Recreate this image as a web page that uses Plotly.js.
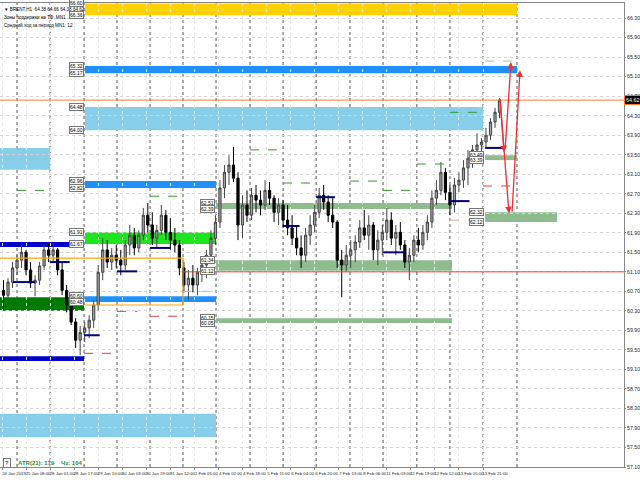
<!DOCTYPE html>
<html><head><meta charset="utf-8">
<script src="https://cdn.plot.ly/plotly-3.0.1.min.js"></script>
<style>html,body{margin:0;padding:0;background:#fff}#chart{width:640px;height:480px}</style>
</head><body><div id="chart"></div>
<script>
// ---- price data (3-hour aggregated H1 bars) ----
const candleOpen = [60.72,60.62,60.89,61.18,61.34,61.50,61.14,60.87,60.93,61.22,
61.55,61.44,61.55,61.14,60.72,60.42,60.07,59.70,59.86,59.95,
60.11,60.42,61.09,61.55,61.30,61.44,61.34,61.24,61.65,61.85,
61.59,61.85,62.26,62.06,61.79,61.95,62.26,61.91,61.75,61.65,
61.18,60.83,60.97,60.83,61.09,61.24,61.44,61.79,62.12,62.82,
63.14,63.29,63.02,62.06,62.47,62.26,62.67,62.57,62.47,62.77,
62.61,62.32,62.47,62.16,62.00,61.79,61.59,61.44,61.85,62.06,
62.32,62.67,62.53,62.26,62.12,61.34,61.24,61.44,61.55,61.71,
62.00,61.85,62.06,61.55,61.75,61.91,62.16,61.79,61.91,61.65,
61.30,61.44,61.75,61.65,61.91,62.12,62.61,62.77,63.14,62.73,
62.47,62.88,62.98,63.23,63.43,63.60,63.70,63.76,63.90,64.17,64.37];
const candleHigh = [60.93,60.97,61.30,61.44,61.65,61.55,61.30,61.03,61.30,61.67,
61.69,61.67,61.59,61.30,60.83,60.52,60.15,59.99,60.07,60.21,
60.52,61.24,61.79,61.75,61.59,61.65,61.55,61.75,62.06,62.00,
61.95,62.41,62.51,62.32,62.06,62.47,62.37,62.20,62.00,61.75,
61.30,61.14,61.24,61.18,61.38,61.55,61.95,62.26,62.98,63.29,
63.49,63.66,63.14,62.67,62.77,62.82,62.88,62.77,62.98,62.94,
62.67,62.61,62.57,62.47,62.26,62.06,61.85,62.00,62.26,62.47,
62.82,62.88,62.67,62.61,62.16,61.55,61.65,61.75,61.85,62.16,
62.37,62.26,62.12,61.95,62.06,62.41,62.32,62.06,62.12,61.75,
61.59,61.85,62.00,62.06,62.26,62.77,62.98,63.35,63.23,62.88,
63.02,63.14,63.39,63.60,63.70,63.94,63.84,64.05,64.25,64.46,64.66];
const candleLow = [60.31,60.56,60.77,61.03,61.18,61.03,60.77,60.60,60.83,61.14,
61.30,61.30,61.03,60.62,60.27,60.01,59.54,59.39,59.66,59.74,
59.95,60.31,60.93,61.18,61.14,61.18,61.03,61.14,61.44,61.44,
61.50,61.75,61.91,61.65,61.59,61.85,61.75,61.55,61.50,61.03,
60.68,60.52,60.68,60.62,60.89,60.97,61.30,61.65,62.00,62.61,
62.88,62.94,61.75,61.79,62.12,62.16,62.32,62.26,62.37,62.47,
62.12,62.06,62.00,61.85,61.65,61.44,61.18,61.30,61.65,61.91,
62.20,62.37,62.12,62.00,61.18,60.58,61.09,61.18,61.30,61.59,
61.75,61.55,61.34,61.24,61.44,61.75,61.65,61.44,61.55,61.18,
60.93,61.30,61.50,61.55,61.75,62.00,62.47,62.67,62.57,62.26,
62.32,62.73,62.82,62.88,63.23,63.49,63.55,63.64,63.80,64.05,64.25];
const candleClose = [60.62,60.89,61.18,61.34,61.50,61.14,60.87,60.93,61.22,61.55,
61.44,61.55,61.14,60.72,60.42,60.07,59.70,59.86,59.95,60.11,
60.42,61.09,61.55,61.30,61.44,61.34,61.24,61.65,61.85,61.59,
61.85,62.26,62.06,61.79,61.95,62.26,61.91,61.75,61.65,61.18,
60.83,60.97,60.83,61.09,61.24,61.44,61.79,62.12,62.82,63.14,
63.29,63.02,62.06,62.47,62.26,62.67,62.57,62.47,62.77,62.61,
62.32,62.47,62.16,62.00,61.79,61.59,61.44,61.85,62.06,62.32,
62.67,62.53,62.26,62.12,61.34,61.24,61.44,61.55,61.71,62.00,
61.85,62.06,61.55,61.75,61.91,62.16,61.79,61.91,61.65,61.30,
61.44,61.75,61.65,61.91,62.12,62.61,62.77,63.14,62.73,62.47,
62.88,62.98,63.23,63.43,63.60,63.70,63.76,63.90,64.17,64.37,64.62];
const candleBar = candleOpen.map((_, i) => 1 + 3 * i); // bar index (H1) of each group

const lastPrice = 64.62;
const redLevel = 61.10;
const redLevelFromBar = 120.4;

// ---- axis ticks ----
const timeTickBars = [0,16,32,48,64,80,96,112,128,144,160,176,192,208,224,240,256,272,288,304,320];
const timeTickLabels = ["24 Jan 2019","25 Jan 08:00","28 Jan 01:00","28 Jan 17:00","29 Jan 10:00","30 Jan 03:00",
"30 Jan 19:00","31 Jan 12:00","1 Feb 05:00","4 Feb 02:00","4 Feb 18:00","5 Feb 11:00","6 Feb 04:00",
"6 Feb 20:00","7 Feb 13:00","8 Feb 06:00","11 Feb 03:00","11 Feb 19:00","12 Feb 12:00","13 Feb 05:00","13 Feb 21:00"];
const priceTicks = [57.10,57.50,57.90,58.30,58.70,59.10,59.50,59.90,60.30,60.70,61.10,61.50,
61.90,62.30,62.70,63.10,63.50,63.90,64.30,64.70,65.10,65.50,65.90,66.30];
const daySepBars = [10,32,54.6,76.5,98.5,120.4,142.4,165,187,209,231.5,253.5,276,298,320,342.6];

// ---- support / resistance zones ----
const zoneStart = [55.2,55.2,55.2,-1.4,55.2,55.2,-1.4,-1.4,55.2,-1.4,-1.4,142.4,142.4,142.4,321.4,321.4];
const zoneEnd   = [342.6,342.6,320,32,142.4,142.4,54.6,54.6,142.4,54.6,142.4,299.4,299.4,299.4,342.6,369.3];
const zoneLow   = [66.36,65.17,64.00,63.19,62.82,61.67,61.61,60.30,60.48,59.27,57.71,62.39,61.12,60.05,63.39,62.12];
const zoneHigh  = [66.60,65.32,64.48,63.64,62.96,61.91,61.71,60.58,60.60,59.37,58.19,62.51,61.34,60.15,63.49,62.32];
const zoneKind  = ["gold","dodger","sky","sky","dodger","lime","navy","dkgreen","dodger","navy","sky","sea","sea","sea","sea","sea"];
const zoneLabeled = [1,1,1,0,1,1,0,0,1,0,0,1,1,1,1,1];

// ---- short level lines ----
const lvlStart = [10,98.5,165,187,231.5,253.5,276,298,321.4, 54.6,76.5,98.5,120.4,298,320, 7.3,32,54.6,76.5,98.5,187,209,253.5,298,321.4];
const lvlEnd   = [32,120.4,187,209,253.5,276,298,320,342.6, 76.5,90,120.4,142.4,320,342.6, 22,45,65,90,112,198,221.5,268,311,333];
const lvlPrice = [62.77,62.65,63.60,62.92,62.96,62.77,63.31,64.37,65.42, 59.43,60.29,60.19,60.70,62.16,62.86, 60.89,61.30,59.80,61.11,61.59,62.04,62.63,61.50,62.55,63.64];
const lvlKind  = ["up","up","up","up","up","up","up","up","up2", "dn","dn","dn","dn2","dn2","dn", "mid","mid","mid","mid","mid","mid","mid","mid","mid","mid"];

// ---- forecast zigzag ----
const fcTailBar = [331.3,334.7,331.3,339.3];
const fcTailPrice = [64.66,63.60,64.66,62.30];
const fcHeadBar = [334,338.6,337.3,344.6];
const fcHeadPrice = [63.55,65.40,62.30,65.23];

// ---- styles ----
const zoneColor = {gold:"#FFD200", dodger:"#1E90FF", sky:"#87CEEB", lime:"#1EE61E", navy:"#0000CD", dkgreen:"#007A00", sea:"#8FBC8F"};
const lvlStyle = {up:{color:"#2E9B2E",dash:"dash",width:1}, up2:{color:"#8FCF8F",dash:"dash",width:1},
  dn:{color:"#E23A3A",dash:"dash",width:1}, dn2:{color:"#F4A0A0",dash:"dash",width:1}, mid:{color:"#000080",dash:"solid",width:2}};
const FONT = "Liberation Sans, Arial, sans-serif";
const X_RANGE = [-1.33, 413.8];

const shapes = [];
const annotations = [];
zoneStart.forEach((s, i) => {
  shapes.push({type:"rect", xref:"x", yref:"y", x0:s, x1:zoneEnd[i], y0:zoneLow[i], y1:zoneHigh[i],
    fillcolor:zoneColor[zoneKind[i]], line:{width:0}, layer:"below"});
  if (zoneLabeled[i]) {
    [zoneHigh[i], zoneLow[i]].forEach(p => annotations.push({xref:"x", yref:"y", x:s - 0.8, y:p, xanchor:"right", yanchor:"middle",
      text:p.toFixed(2), showarrow:false, font:{family:FONT,size:5,color:"#000"}, bgcolor:"#fff", bordercolor:"#777", borderwidth:1, borderpad:0}));
  }
});
daySepBars.forEach(b => shapes.push({type:"line", xref:"x", yref:"paper", x0:b, x1:b, y0:0, y1:1,
  line:{color:"#555", width:1, dash:"dot"}, layer:"below"}));
lvlStart.forEach((s, i) => shapes.push({type:"line", xref:"x", yref:"y", x0:s, x1:lvlEnd[i], y0:lvlPrice[i], y1:lvlPrice[i],
  line:lvlStyle[lvlKind[i]], layer:"above"}));
// orange box lines
shapes.push({type:"path", xref:"x", yref:"y", path:`M -1.4 61.38 L 120.4 61.38 L 120.4 60.42 L 55.2 60.42`, line:{color:"#FFA500", width:1.2}, layer:"above"});
// red level
shapes.push({type:"line", xref:"x", yref:"y", x0:redLevelFromBar, x1:X_RANGE[1], y0:redLevel, y1:redLevel, line:{color:"#F03C3C", width:1}, layer:"above"});
// current price line
shapes.push({type:"line", xref:"paper", yref:"y", x0:0, x1:1, y0:lastPrice, y1:lastPrice, line:{color:"#FF7A30", width:1}, layer:"above"});

fcTailBar.forEach((b, i) => annotations.push({xref:"x", yref:"y", axref:"x", ayref:"y", x:fcHeadBar[i], y:fcHeadPrice[i], ax:b, ay:fcTailPrice[i],
  showarrow:true, arrowhead:2, arrowsize:1, arrowwidth:1.3, arrowcolor:"#F03030", text:""}));

// price label box
annotations.push({xref:"paper", yref:"y", x:1, y:lastPrice, xanchor:"left", yanchor:"middle", xshift:0, text:lastPrice.toFixed(2),
  showarrow:false, font:{family:FONT,size:5.4,color:"#fff"}, bgcolor:"#000", bordercolor:"#FF7A30", borderwidth:1, borderpad:1});
// header texts
const headerLines = ["▼ BRENT,H1  64.38 64.66 64.38 64.62", "Зоны поддержки на ТФ: MN1", "Средний ход за период MN1: 12"];
headerLines.forEach((t, i) => annotations.push({xref:"paper", yref:"paper", x:0.004, y:1 - (2 + 7.5 * i) / 464, xanchor:"left", yanchor:"top",
  text:t, showarrow:false, font:{family:FONT,size:4.6,color:"#000"}}));
annotations.push({xref:"paper", yref:"paper", x:0.005, y:0.009, xanchor:"left", yanchor:"middle", text:"?", showarrow:false,
  font:{family:FONT,size:6,color:"#000"}, bgcolor:"#fff", bordercolor:"#777", borderwidth:1, borderpad:1});
annotations.push({xref:"paper", yref:"paper", x:0.026, y:0.009, xanchor:"left", yanchor:"middle", text:"<b>ATR(21): 179</b>", showarrow:false,
  font:{family:FONT,size:6,color:"#1E8C3A"}});
annotations.push({xref:"paper", yref:"paper", x:0.094, y:0.009, xanchor:"left", yanchor:"middle", text:"<b>Чз: 104</b>", showarrow:false,
  font:{family:FONT,size:6,color:"#1E8C3A"}});

const trace = {type:"candlestick", x:candleBar, open:candleOpen, high:candleHigh, low:candleLow, close:candleClose,
  increasing:{line:{color:"#444", width:1}, fillcolor:"#a0a0a0"},
  decreasing:{line:{color:"#000", width:1}, fillcolor:"#000"},
  whiskerwidth:0, hoverinfo:"skip"};

const layout = {
  width:640, height:480, margin:{l:0, r:16, t:3, b:13, pad:0},
  paper_bgcolor:"#fff", plot_bgcolor:"#fff", showlegend:false,
  font:{family:FONT, size:6, color:"#222"},
  xaxis:{range:X_RANGE, tickvals:timeTickBars, ticktext:timeTickLabels, tickfont:{size:4.3, color:"#222"}, tickangle:0,
    ticks:"outside", ticklen:2, tickcolor:"#888", showgrid:true, gridcolor:"#e6e6e6", griddash:"dot",
    showline:true, linecolor:"#888", mirror:true, zeroline:false, rangeslider:{visible:false}, fixedrange:true,
    ticklabelshift:12, ticklabelstandoff:0, automargin:false},
  yaxis:{side:"right", range:[57.10, 66.61], tickvals:priceTicks, ticktext:priceTicks.map(v => v.toFixed(2)),
    tickfont:{size:5.2, color:"#222"}, ticks:"outside", ticklen:1, tickcolor:"#888", showgrid:true, gridcolor:"#d6d6d6",
    griddash:"dot", showline:true, linecolor:"#888", mirror:true, zeroline:false, fixedrange:true, automargin:false,
    ticklabelstandoff:0},
  shapes:shapes, annotations:annotations
};
Plotly.newPlot("chart", [trace], layout, {staticPlot:true, displayModeBar:false});
</script></body></html>
